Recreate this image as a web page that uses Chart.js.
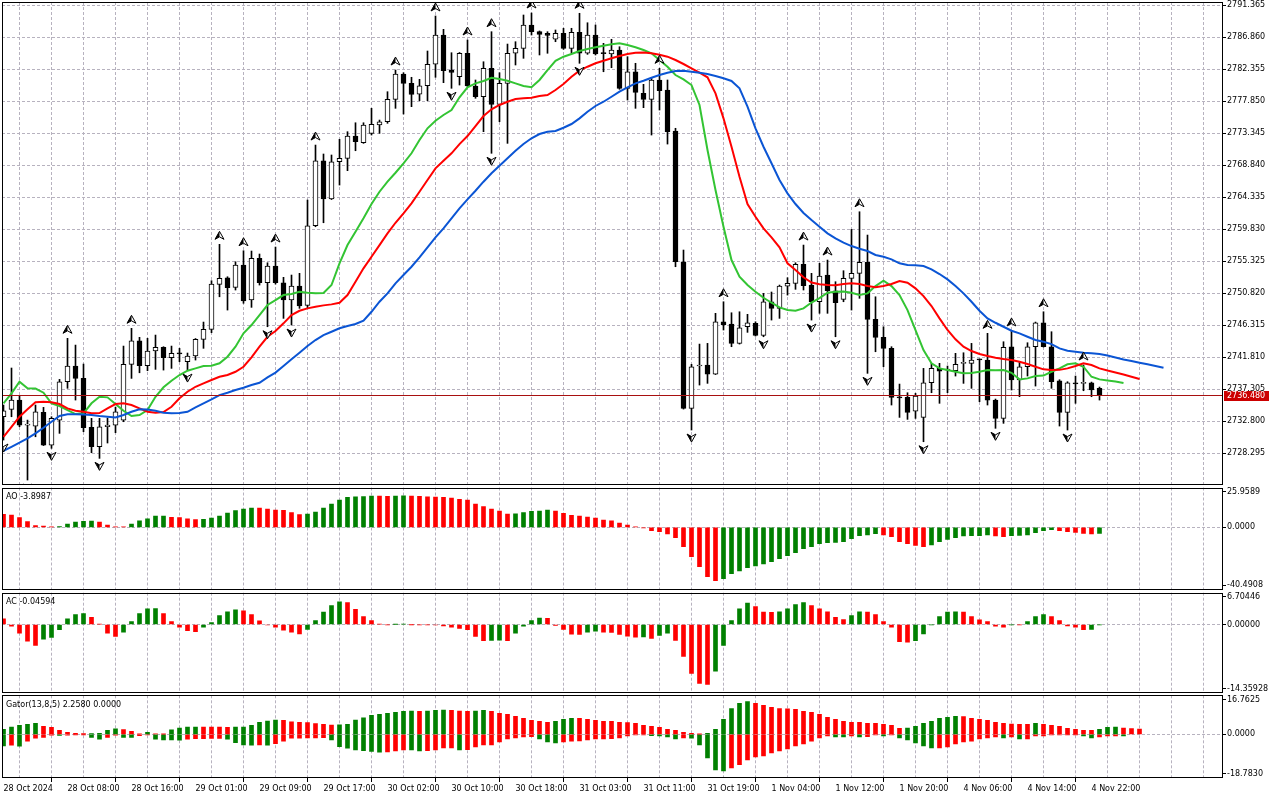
<!DOCTYPE html>
<html>
<head>
<meta charset="utf-8">
<script src="https://cdn.jsdelivr.net/npm/chart.js@4.4.1/dist/chart.umd.min.js"></script>
<style>
html, body { margin: 0; padding: 0; background: #fff; overflow: hidden; }
canvas { position: absolute; left: 0; }
</style>
</head>
<body>
<canvas id="mainChart" width="1280" height="486" style="top:0px"></canvas>
<canvas id="aoChart" width="1280" height="105" style="top:486px"></canvas>
<canvas id="acChart" width="1280" height="103" style="top:591px"></canvas>
<canvas id="gatorChart" width="1280" height="106" style="top:694px"></canvas>
<script>
// hourly bars, one label every 8 bars
const tickLabels = ['28 Oct 2024', '28 Oct 08:00', '28 Oct 16:00', '29 Oct 01:00', '29 Oct 09:00', '29 Oct 17:00',
    '30 Oct 02:00', '30 Oct 10:00', '30 Oct 18:00', '31 Oct 03:00', '31 Oct 11:00', '31 Oct 19:00',
    '1 Nov 04:00', '1 Nov 12:00', '1 Nov 20:00', '4 Nov 06:00', '4 Nov 14:00', '4 Nov 22:00'];

const opens = [2733.44,2734.48,2735.79,2732.27,2732.13,2734.06,2729.45,2732.97,2738.37,2740.58,
    2738.84,2731.95,2729.21,2732.03,2732.27,2732.97,2740.82,2744.14,2740.62,2742.69,
    2743.21,2741.75,2742.37,2741.18,2741.99,2744.34,2745.74,2752.08,2753.01,2751.66,
    2754.80,2749.87,2755.74,2752.31,2754.66,2752.31,2749.87,2751.84,2749.12,2760.33,
    2769.48,2764.09,2769.34,2769.82,2772.96,2772.02,2773.34,2774.51,2774.97,2778.13,
    2781.69,2780.38,2778.87,2780.04,2783.06,2787.18,2782.25,2781.31,2784.61,2780.00,
    2778.49,2782.49,2777.42,2780.38,2784.61,2785.31,2788.59,2787.65,2787.42,2786.58,
    2787.42,2785.31,2787.56,2784.61,2787.18,2784.61,2784.51,2785.07,2779.68,2782.01,
    2778.97,2778.13,2780.85,2779.44,2773.67,2755.26,2734.62,2740.58,2740.72,2739.45,
    2746.81,2746.49,2743.77,2746.11,2746.59,2744.90,2749.63,2748.70,2751.84,2752.22,
    2754.90,2751.98,2749.63,2753.39,2751.18,2749.97,2752.93,2753.63,2755.18,2747.15,
    2744.62,2743.07,2736.17,2736.17,2734.24,2733.35,2738.23,2740.25,2740.01,2739.92,
    2740.96,2740.96,2741.52,2741.42,2735.79,2733.21,2743.30,2738.61,2740.48,2743.30,
    2746.67,2743.30,2738.51,2734.06,2738.14,2738.14,2738.23,2737.44];
const highs = [2735.09,2740.30,2736.35,2732.97,2735.09,2734.76,2733.44,2738.70,2744.48,2743.53,
    2740.86,2733.21,2733.21,2733.26,2734.80,2743.39,2745.89,2744.62,2744.48,2744.94,
    2743.30,2743.39,2743.07,2742.41,2744.45,2746.77,2752.59,2757.71,2753.15,2755.26,
    2756.81,2756.77,2756.35,2755.12,2757.33,2753.07,2753.39,2753.63,2763.95,2771.69,
    2770.43,2770.29,2772.50,2773.57,2774.83,2774.83,2776.86,2775.21,2779.20,2782.25,
    2781.87,2781.23,2780.94,2784.93,2789.86,2787.98,2784.69,2784.72,2786.48,2780.85,
    2783.42,2787.65,2781.87,2785.91,2786.24,2790.00,2790.28,2787.75,2787.65,2787.89,
    2788.13,2788.13,2790.24,2788.91,2788.59,2786.01,2786.58,2785.53,2784.13,2783.20,
    2780.24,2781.09,2782.49,2780.85,2774.05,2756.91,2740.82,2743.67,2743.77,2748.00,
    2749.63,2748.08,2748.22,2747.86,2746.81,2750.81,2751.00,2751.98,2753.01,2755.12,
    2757.61,2753.63,2755.04,2755.50,2752.45,2754.00,2759.82,2762.30,2759.02,2750.33,
    2746.11,2743.30,2738.04,2736.82,2736.73,2740.25,2740.96,2740.96,2740.58,2742.37,
    2742.45,2743.77,2741.56,2745.18,2735.93,2744.00,2745.51,2741.18,2743.86,2746.77,
    2748.22,2745.41,2738.65,2738.37,2739.17,2740.72,2738.32,2737.62];
const lows = [2730.16,2733.44,2732.03,2724.53,2730.62,2729.38,2728.99,2731.10,2737.44,2735.79,
    2731.33,2728.37,2727.58,2729.74,2731.19,2732.74,2738.84,2739.63,2739.92,2740.11,
    2740.01,2740.25,2741.18,2740.01,2741.42,2743.07,2745.27,2750.33,2748.46,2751.28,
    2749.41,2748.84,2751.98,2746.11,2752.12,2747.29,2746.35,2748.70,2748.70,2760.19,
    2760.75,2764.02,2766.06,2768.08,2770.89,2771.93,2773.10,2773.34,2774.75,2776.86,
    2776.06,2777.09,2777.93,2777.93,2781.23,2780.47,2779.68,2780.14,2779.90,2778.27,
    2773.57,2770.53,2774.97,2771.93,2782.96,2783.90,2787.18,2784.37,2784.61,2786.24,
    2785.17,2784.61,2783.20,2784.46,2784.37,2782.01,2782.58,2779.54,2778.03,2776.86,
    2776.95,2773.10,2776.62,2771.83,2754.56,2734.52,2731.57,2737.90,2738.14,2739.38,
    2745.65,2743.30,2743.67,2745.32,2744.80,2744.70,2747.05,2747.29,2750.57,2751.38,
    2751.28,2747.05,2748.00,2748.00,2744.70,2749.63,2748.46,2750.11,2739.55,2742.59,
    2740.48,2735.09,2733.35,2733.07,2733.21,2729.92,2736.82,2735.33,2736.82,2739.17,
    2738.14,2737.44,2735.55,2735.09,2731.81,2732.51,2737.20,2736.26,2739.17,2737.76,
    2743.25,2737.44,2732.13,2731.57,2735.33,2737.10,2736.26,2735.79];
const closes = [2734.28,2735.79,2732.27,2732.34,2734.14,2729.45,2733.21,2738.37,2740.58,2738.84,
    2731.89,2729.21,2732.03,2732.27,2734.14,2740.82,2744.14,2740.62,2742.69,2743.21,
    2741.75,2742.37,2742.29,2741.99,2744.34,2745.74,2752.12,2752.93,2751.60,2754.80,
    2749.73,2755.74,2752.31,2754.66,2752.31,2749.87,2751.84,2749.03,2760.33,2769.48,
    2764.09,2769.34,2769.82,2772.96,2772.16,2774.51,2774.61,2774.97,2778.13,2781.69,
    2780.38,2778.83,2780.04,2783.06,2787.18,2782.16,2781.93,2784.61,2780.00,2778.49,
    2782.49,2777.42,2780.38,2784.61,2785.31,2788.59,2787.65,2787.28,2787.14,2787.42,
    2785.31,2787.56,2784.61,2787.18,2784.51,2784.56,2785.07,2779.68,2782.01,2779.11,
    2778.13,2780.85,2779.34,2773.57,2755.26,2734.62,2740.48,2740.65,2739.45,2746.81,
    2746.35,2743.77,2745.97,2746.67,2744.90,2749.63,2748.70,2751.84,2752.22,2754.90,
    2751.88,2749.63,2753.25,2751.18,2749.49,2752.93,2753.63,2755.18,2747.15,2744.62,
    2743.07,2736.17,2736.10,2734.06,2736.35,2738.23,2740.25,2739.87,2740.08,2740.82,
    2741.00,2741.42,2741.45,2735.79,2733.21,2743.21,2738.61,2740.48,2743.30,2746.67,
    2743.30,2738.37,2734.06,2738.23,2738.07,2738.18,2737.20,2736.48];

// Alligator lines (already shifted forward: jaw 8, teeth 5, lips 3 bars)
const jaw = [2728.65,2729.21,2729.78,2730.40,2731.10,2731.89,2732.73,2733.54,2733.78,2733.78,
    2733.75,2733.68,2733.54,2733.44,2733.35,2733.68,2734.14,2734.48,2734.45,2734.28,
    2734.00,2733.92,2733.96,2734.14,2734.76,2735.33,2735.89,2736.49,2736.82,2737.20,
    2737.52,2737.90,2738.23,2738.99,2739.66,2740.58,2741.52,2742.45,2743.39,2744.24,
    2744.94,2745.41,2745.89,2746.21,2746.49,2746.96,2748.22,2749.63,2750.81,2752.22,
    2753.39,2754.56,2755.88,2757.29,2758.70,2759.97,2761.37,2762.78,2764.05,2765.26,
    2766.53,2767.71,2768.78,2769.82,2770.89,2771.83,2772.64,2773.24,2773.57,2773.67,
    2774.13,2774.65,2775.45,2776.38,2777.19,2777.79,2778.49,2779.20,2779.82,2780.38,
    2780.75,2781.17,2781.55,2781.87,2782.11,2782.14,2782.01,2781.87,2781.69,2781.41,
    2781.09,2780.71,2779.68,2777.09,2774.05,2771.45,2769.12,2766.77,2764.89,2763.39,
    2762.12,2761.13,2760.19,2759.26,2758.56,2757.94,2757.47,2757.09,2756.77,2756.21,
    2755.97,2755.60,2755.04,2754.80,2754.76,2754.66,2754.19,2753.53,2752.78,2751.84,
    2750.81,2749.63,2748.36,2747.29,2746.67,2746.11,2745.55,2745.18,2744.70,2744.24,
    2744.00,2743.67,2743.07,2742.73,2742.59,2742.45,2742.37,2742.27,2742.06,2741.77,
    2741.49,2741.28,2741.04,2740.82,2740.58,2740.34];
const teeth = [2730.62,2732.03,2733.44,2734.48,2735.47,2735.55,2735.47,2735.23,2734.62,2734.28,
    2734.14,2733.92,2733.96,2734.62,2735.23,2735.33,2735.09,2734.62,2734.14,2734.00,
    2734.10,2734.85,2736.03,2736.96,2737.66,2738.14,2738.61,2739.07,2739.31,2739.77,
    2740.48,2741.80,2743.30,2744.70,2745.51,2746.59,2747.76,2748.36,2748.70,2748.93,
    2749.12,2749.26,2749.49,2750.57,2752.45,2754.33,2755.97,2757.61,2759.26,2760.75,
    2762.08,2763.49,2765.12,2766.77,2768.41,2769.48,2770.53,2771.83,2772.96,2774.37,
    2775.78,2776.72,2777.33,2777.79,2778.17,2778.27,2778.35,2778.59,2778.73,2779.44,
    2780.28,2781.31,2782.16,2782.72,2783.20,2783.56,2783.90,2784.23,2784.51,2784.69,
    2784.72,2784.61,2784.41,2784.13,2783.66,2783.10,2782.49,2781.87,2781.23,2778.97,
    2775.45,2771.45,2767.23,2763.39,2761.60,2759.97,2758.70,2757.29,2755.04,2754.09,
    2753.07,2752.33,2752.09,2751.98,2751.95,2752.12,2752.22,2752.12,2751.84,2751.66,
    2751.84,2752.12,2752.55,2752.31,2751.52,2750.43,2749.03,2747.29,2745.65,2744.34,
    2743.30,2742.69,2742.27,2741.99,2741.75,2741.56,2741.42,2741.18,2740.86,2740.48,
    2740.11,2740.01,2740.04,2740.25,2740.58,2740.96,2740.72,2740.25,2739.94,2739.66,
    2739.38,2739.07,2738.75];
const lips = [2735.33,2736.73,2738.37,2737.44,2737.40,2736.82,2735.33,2734.95,2734.38,2733.82,
    2733.92,2735.33,2736.25,2736.17,2735.23,2734.28,2733.54,2733.68,2734.38,2736.25,
    2737.58,2738.51,2739.31,2739.92,2740.25,2740.58,2740.62,2740.96,2741.89,2743.30,
    2745.18,2746.35,2747.76,2749.17,2749.87,2750.57,2750.71,2751.04,2750.90,2750.81,
    2750.85,2751.98,2755.04,2757.61,2759.49,2761.37,2763.39,2765.12,2766.53,2767.79,
    2769.12,2770.53,2772.40,2774.05,2775.12,2775.92,2776.62,2778.41,2779.82,2780.38,
    2780.71,2781.17,2780.99,2780.75,2780.38,2780.00,2779.82,2780.85,2782.25,2783.56,
    2784.13,2784.51,2784.93,2785.21,2785.45,2785.68,2785.87,2786.01,2785.77,2785.45,
    2785.07,2784.61,2783.66,2782.72,2781.55,2780.94,2780.14,2777.33,2770.99,2765.36,
    2760.19,2755.50,2753.15,2751.98,2751.04,2750.19,2749.49,2748.84,2748.46,2748.36,
    2748.70,2749.52,2750.15,2750.90,2751.04,2751.07,2750.90,2750.57,2750.81,2751.84,
    2752.59,2751.84,2750.57,2748.46,2745.65,2742.83,2740.96,2740.25,2740.01,2739.77,
    2739.55,2739.59,2739.77,2740.01,2739.98,2740.01,2739.63,2738.70,2738.84,2739.17,
    2739.24,2739.77,2740.25,2740.82,2740.96,2740.48,2739.07,2738.70,2738.54,2738.39,
    2738.18];

const fractalUp = [8, 16, 27, 30, 34, 39, 49, 54, 58, 61, 66, 72, 82, 90, 100, 103, 107, 123, 126, 130, 135];
const fractalDown = [0, 3, 6, 12, 23, 33, 36, 56, 61, 72, 86, 95, 101, 104, 108, 115, 124, 133];

const ao = [8.5,8.0,6.3,3.7,1.1,0.9,0.4,0.5,2.2,3.5,
    4.0,4.1,3.5,1.5,0.4,0.2,2.2,4.3,5.6,7.3,
    7.4,6.5,6.3,5.6,5.0,5.2,6.1,7.4,9.3,10.9,
    11.9,12.6,12.5,11.9,11.3,11.1,9.6,8.3,8.7,10.0,
    12.6,15.2,17.8,19.5,19.8,20.1,20.4,20.3,20.2,20.3,
    20.5,20.4,20.2,19.8,19.7,19.5,19.1,18.2,17.8,15.2,
    13.5,11.9,10.6,8.6,8.8,9.6,10.5,10.6,11.3,10.6,
    9.1,7.8,7.4,6.7,6.1,4.8,4.3,2.8,1.5,0.2,
    -0.4,-2.2,-2.8,-4.3,-6.7,-12.6,-19.1,-25.6,-32.1,-34.7,
    -33.4,-30.2,-28.4,-26.3,-25.2,-23.9,-22.4,-20.4,-18.5,-16.5,
    -13.9,-12.6,-10.6,-10.0,-9.8,-9.3,-7.4,-5.4,-5.0,-4.1,
    -5.0,-6.1,-9.3,-10.6,-11.7,-12.6,-11.5,-9.3,-7.8,-6.7,
    -5.6,-5.5,-5.4,-5.0,-5.6,-6.1,-5.4,-5.3,-5.0,-3.5,
    -2.2,-1.5,-2.2,-2.8,-3.3,-3.9,-4.3,-3.8987];
const ac = [1.2,-0.35,-1.8,-3.5,-4.4,-3.1,-2.7,-1.1,1.2,2.1,
    2.3,1.5,0.1,-1.8,-2.5,-1.6,0.6,2.3,3.3,3.35,
    2.3,0.6,-0.55,-1.3,-1.5,-0.55,0.4,1.9,2.7,3.1,
    2.9,2.1,0.8,-0.1,-0.55,-1.2,-1.6,-2.0,-1.05,0.85,
    2.6,4.0,4.8,4.6,3.2,1.7,0.85,0.05,-0.05,0.02,
    0.05,-0.02,-0.05,-0.07,-0.1,-0.3,-0.55,-0.8,-1.1,-2.5,
    -3.4,-3.35,-3.3,-3.4,-1.8,-0.35,0.85,1.35,1.3,-0.2,
    -1.05,-2.05,-2.1,-1.6,-1.4,-1.6,-1.65,-2.1,-2.45,-2.65,
    -2.6,-2.9,-2.3,-1.8,-3.35,-6.7,-10.3,-12.4,-12.6,-9.8,
    -4.4,0.85,3.3,4.5,3.8,2.6,2.55,2.7,3.3,4.2,
    4.6,4.0,3.3,2.7,1.5,1.05,1.9,2.7,2.6,2.1,
    0.6,-0.55,-3.6,-3.7,-3.4,-2.0,-0.05,1.7,2.6,2.7,
    2.6,1.7,1.0,0.6,-0.35,-0.55,-0.05,-0.07,0.6,1.7,
    2.1,1.7,0.85,-0.3,-0.55,-1.1,-1.05,-0.04594];
const gatorUp = [2.1,3.1,3.9,4.3,4.7,3.4,3.0,1.7,0.9,0.4,
    0.3,0.35,0.4,1.7,2.3,2.0,1.3,0.15,0.9,0.2,
    0.1,1.9,2.7,3.1,3.15,3.12,3.1,3.08,3.0,3.05,
    3.1,3.9,5.1,5.7,6.1,6.05,5.4,5.1,5.05,4.6,
    4.3,4.0,4.1,4.3,6.1,7.1,8.1,8.6,9.0,9.4,
    9.9,10.0,9.9,10.0,10.3,10.4,10.3,9.95,9.9,10.0,
    10.3,9.9,9.0,8.6,7.7,6.9,6.0,5.6,5.1,5.6,
    6.4,6.9,6.85,6.4,6.0,5.6,5.55,5.1,5.0,4.7,
    3.9,3.4,3.0,2.1,1.7,0.9,0.4,0.1,0.4,2.1,
    6.4,11.1,13.3,14.1,13.3,12.4,11.6,11.1,11.0,10.7,
    9.9,9.4,8.6,7.3,6.4,5.6,5.15,5.1,4.75,4.7,
    4.3,3.9,2.6,2.65,3.4,4.7,5.6,6.9,7.3,7.7,
    7.65,6.9,6.4,6.0,5.1,4.7,4.35,4.3,4.25,4.7,
    4.3,3.9,3.4,2.6,2.1,1.75,1.7,2.1,3.0,3.05,
    2.7,2.5,2.258];
const gatorDown = [-5.0,-4.7,-5.1,-2.9,-1.7,-1.3,-0.4,-0.45,-0.4,-0.15,
    -0.1,-1.3,-2.1,-1.3,-0.4,-1.3,-1.35,-0.6,-0.3,-2.1,
    -2.4,-2.45,-2.5,-2.1,-1.9,-1.85,-1.8,-1.75,-2.1,-3.6,
    -4.6,-4.65,-4.6,-4.65,-4.0,-2.9,-1.7,-1.65,-1.6,-1.55,
    -1.4,-2.4,-5.3,-6.0,-6.7,-7.0,-7.4,-7.7,-7.6,-7.1,
    -6.7,-6.75,-7.1,-7.05,-6.7,-5.9,-5.85,-6.7,-6.6,-5.4,
    -4.6,-4.55,-3.3,-2.0,-1.6,-1.1,-1.05,-2.0,-3.3,-3.7,
    -3.3,-2.9,-2.85,-2.4,-2.0,-1.95,-1.9,-1.6,-0.7,-0.3,
    -0.25,-0.6,-0.7,-1.1,-2.0,-1.6,-1.65,-4.6,-10.1,-15.3,
    -15.7,-14.4,-13.1,-11.0,-9.7,-9.3,-8.0,-7.1,-6.3,-5.0,
    -4.1,-2.9,-1.6,-0.7,-1.1,-1.15,-0.7,-1.1,-1.05,-0.3,
    -0.7,-0.3,-1.6,-2.4,-3.7,-5.0,-5.9,-5.85,-5.4,-4.1,
    -3.3,-2.9,-2.0,-1.6,-1.1,-1.6,-1.1,-2.0,-1.95,-0.7,
    -0.65,-0.3,-0.25,-0.15,-0.1,-0.7,-1.6,-1.1,-0.7,-0.65,
    -0.7];

const mainTicks = [2728.295, 2732.800, 2737.305, 2741.810, 2746.315, 2750.820, 2755.325, 2759.830,
    2764.335, 2768.840, 2773.345, 2777.850, 2782.355, 2786.860, 2791.365];
const aoTicks = [-40.4908, 0, 25.9589];
const acTicks = [-14.35928, 0, 6.70446];
const gatorTicks = [-18.7830, 0, 16.7625];
const panelTitles = ['AO -3.8987', 'AC -0.04594', 'Gator(13,8,5) 2.2580 0.0000'];

Chart.defaults.font.family = '"DejaVu Sans", sans-serif';
Chart.defaults.font.size = 8;
Chart.defaults.color = '#000';
Chart.defaults.animation = false;

const X_MIN = -0.1875;
const X_MAX = 152.3125;
const GRID = '#b7b2bf';
const DASH = [3, 2];
const UP = '#008000';
const DOWN = '#ff0000';
const CLEAR = 'rgba(0,0,0,0)';

function labelFor(v) {
    return (v % 8 === 0 && v / 8 < tickLabels.length) ? tickLabels[v / 8] : '';
}

// keep the plot areas exactly where the panels are: no extra room for edge labels
function noPad(s) {
    s.paddingTop = 0;
    s.paddingBottom = 0;
    s.paddingLeft = 0;
    s.paddingRight = 0;
}

function xAxis(withLabels) {
    return {
        type: 'linear', min: X_MIN, max: X_MAX, offset: false, bounds: 'data',
        afterBuildTicks: s => {
            const t = [];
            for (let v = 0; v <= 152; v += 4) t.push({ value: v });
            s.ticks = t;
        },
        afterFit: s => { s.height = withLabels ? 22 : 0; noPad(s); },
        grid: {
            color: GRID, drawTicks: withLabels, tickLength: 4, tickBorderDash: [],
            tickColor: c => (c.tick && labelFor(c.tick.value) !== '') ? '#000' : CLEAR
        },
        border: { display: false, dash: DASH },
        ticks: {
            display: withLabels, autoSkip: false, maxRotation: 0, minRotation: 0,
            align: 'start', padding: 2, callback: v => labelFor(v)
        }
    };
}

function yAxis(min, max, ticks, decimals, inset, allGrid) {
    return {
        type: 'linear', position: 'right', min: min, max: max, bounds: 'data',
        afterFit: s => { s.width = 58; noPad(s); },
        afterBuildTicks: s => {
            const span = max - min;
            s.ticks = ticks.map(v => ({
                value: v === max ? v - span * inset : (v === min ? v + span * inset : v)
            }));
        },
        grid: {
            color: c => (allGrid || (c.tick && c.tick.value === 0)) ? GRID : CLEAR,
            drawTicks: true, tickLength: 4, tickColor: '#000', tickBorderDash: []
        },
        border: { display: false, dash: DASH },
        ticks: { padding: 1, autoSkip: false, callback: (v, i) => ticks[i].toFixed(decimals) }
    };
}

// colour a histogram bar by comparing with the previous bar
function trendColors(values, firstUp, useAbs) {
    return values.map((v, i) => {
        if (i === 0) return firstUp ? UP : DOWN;
        const a = useAbs ? Math.abs(v) : v;
        const b = useAbs ? Math.abs(values[i - 1]) : values[i - 1];
        return a > b ? UP : DOWN;
    });
}

const framePlugin = {
    id: 'frame',
    afterDraw(chart) {
        const { ctx, chartArea: a } = chart;
        const l = Math.round(a.left), r = Math.round(a.right), t = Math.round(a.top), b = Math.round(a.bottom);
        ctx.save();
        ctx.strokeStyle = '#000';
        ctx.lineWidth = 1;
        ctx.strokeRect(l + 0.5, t + 0.5, r - l, b - t - 1);
        ctx.restore();
    }
};

function titlePlugin(text) {
    return {
        id: 'title_' + text.slice(0, 2),
        afterDraw(chart) {
            const { ctx, chartArea: a } = chart;
            ctx.save();
            ctx.font = '8px "DejaVu Sans", sans-serif';
            ctx.fillStyle = '#000';
            ctx.textBaseline = 'middle';
            ctx.fillText(text, 6, a.top + 9.5);
            ctx.restore();
        }
    };
}

function drawArrow(ctx, x, y, up) {
    const s = up ? 1 : -1;
    ctx.beginPath();
    ctx.moveTo(x, y - 4 * s);
    ctx.lineTo(x + 4.5, y + 4 * s);
    ctx.lineTo(x, y + 1.5 * s);
    ctx.lineTo(x - 4.5, y + 4 * s);
    ctx.closePath();
    ctx.fillStyle = '#fff';
    ctx.fill();
    ctx.strokeStyle = '#000';
    ctx.lineWidth = 1;
    ctx.stroke();
    ctx.beginPath();
    ctx.moveTo(x, y - 4 * s);
    ctx.lineTo(x, y + 1.5 * s);
    ctx.lineTo(x - 4.5, y + 4 * s);
    ctx.closePath();
    ctx.fillStyle = '#000';
    ctx.fill();
}

const fractalPlugin = {
    id: 'fractals',
    afterDatasetsDraw(chart) {
        const { ctx, chartArea: a, scales: { x, y } } = chart;
        ctx.save();
        ctx.beginPath();
        ctx.rect(a.left, a.top, a.right - a.left, a.bottom - a.top);
        ctx.clip();
        fractalUp.forEach(i => drawArrow(ctx, x.getPixelForValue(i), y.getPixelForValue(highs[i]) - 9, true));
        fractalDown.forEach(i => drawArrow(ctx, x.getPixelForValue(i), y.getPixelForValue(lows[i]) + 8, false));
        ctx.restore();
    }
};

const pricePlugin = {
    id: 'price',
    afterDatasetsDraw(chart) {
        const { ctx, chartArea: a, scales: { y } } = chart;
        const py = Math.round(y.getPixelForValue(closes[closes.length - 1])) + 0.5;
        ctx.save();
        ctx.strokeStyle = '#a81010';
        ctx.lineWidth = 1;
        ctx.beginPath();
        ctx.moveTo(a.left, py);
        ctx.lineTo(a.right, py);
        ctx.stroke();
        ctx.restore();
    },
    afterDraw(chart) {
        const { ctx, chartArea: a, scales: { y } } = chart;
        const last = closes[closes.length - 1];
        const py = Math.round(y.getPixelForValue(last));
        ctx.save();
        ctx.fillStyle = '#cc0000';
        ctx.fillRect(a.right + 2, py - 4, 45, 10);
        ctx.font = '8px "DejaVu Sans", sans-serif';
        ctx.fillStyle = '#fff';
        ctx.textBaseline = 'middle';
        ctx.fillText(last.toFixed(3), a.right + 5, py + 1);
        ctx.restore();
    }
};

const noPlugins = { legend: { display: false }, tooltip: { enabled: false } };

new Chart(document.getElementById('mainChart'), {
    type: 'bar',
    data: {
        datasets: [
            { type: 'line', data: jaw.map((v, i) => ({ x: i, y: v })), borderColor: '#0b55d4', borderWidth: 2, pointRadius: 0, order: 0 },
            { type: 'line', data: teeth.map((v, i) => ({ x: i, y: v })), borderColor: '#ff0000', borderWidth: 2, pointRadius: 0, order: 0 },
            { type: 'line', data: lips.map((v, i) => ({ x: i, y: v })), borderColor: '#33c433', borderWidth: 2, pointRadius: 0, order: 0 },
            {
                type: 'bar', data: opens.map((o, i) => ({ x: i, y: [o, closes[i]] })),
                backgroundColor: c => closes[c.dataIndex] >= opens[c.dataIndex] ? '#fff' : '#000',
                borderColor: '#000', borderWidth: 1, borderSkipped: false,
                barThickness: 5, minBarLength: 1, grouped: false, order: 1
            },
            {
                type: 'bar', data: lows.map((l, i) => ({ x: i, y: [l, highs[i]] })),
                backgroundColor: '#000', barThickness: 1, grouped: false, order: 2
            }
        ]
    },
    options: {
        responsive: false,
        layout: { padding: { left: 2, right: 0, top: 2, bottom: 1 } },
        plugins: noPlugins,
        scales: { x: xAxis(false), y: yAxis(2723.83, 2791.83, mainTicks, 3, 0, true) }
    },
    plugins: [pricePlugin, fractalPlugin, framePlugin]
});

new Chart(document.getElementById('aoChart'), {
    type: 'bar',
    data: {
        datasets: [{
            data: ao.map((v, i) => ({ x: i, y: v })), backgroundColor: trendColors(ao, false, false),
            barThickness: 4, grouped: false
        }]
    },
    options: {
        responsive: false,
        layout: { padding: { left: 2, right: 0, top: 1.5, bottom: 1.5 } },
        plugins: noPlugins,
        scales: { x: xAxis(false), y: yAxis(aoTicks[0], aoTicks[2], aoTicks, 4, 0.04, false) }
    },
    plugins: [framePlugin, titlePlugin(panelTitles[0])]
});

new Chart(document.getElementById('acChart'), {
    type: 'bar',
    data: {
        datasets: [{
            data: ac.map((v, i) => ({ x: i, y: v })), backgroundColor: trendColors(ac, false, false),
            barThickness: 4, grouped: false
        }]
    },
    options: {
        responsive: false,
        layout: { padding: { left: 2, right: 0, top: 1.7, bottom: 1.3 } },
        plugins: noPlugins,
        scales: { x: xAxis(false), y: yAxis(acTicks[0], acTicks[2], acTicks, 5, 0.04, false) }
    },
    plugins: [framePlugin, titlePlugin(panelTitles[1])]
});

new Chart(document.getElementById('gatorChart'), {
    type: 'bar',
    data: {
        datasets: [
            {
                data: gatorUp.map((v, i) => ({ x: i, y: v })), backgroundColor: trendColors(gatorUp, true, false),
                barThickness: 4, grouped: false
            },
            {
                data: gatorDown.map((v, i) => ({ x: i, y: v })), backgroundColor: trendColors(gatorDown, true, true),
                barThickness: 4, grouped: false
            }
        ]
    },
    options: {
        responsive: false,
        layout: { padding: { left: 2, right: 0, top: 1.3, bottom: 0 } },
        plugins: noPlugins,
        scales: { x: xAxis(true), y: yAxis(gatorTicks[0], gatorTicks[2], gatorTicks, 4, 0.055, false) }
    },
    plugins: [framePlugin, titlePlugin(panelTitles[2])]
});
</script>
</body>
</html>
